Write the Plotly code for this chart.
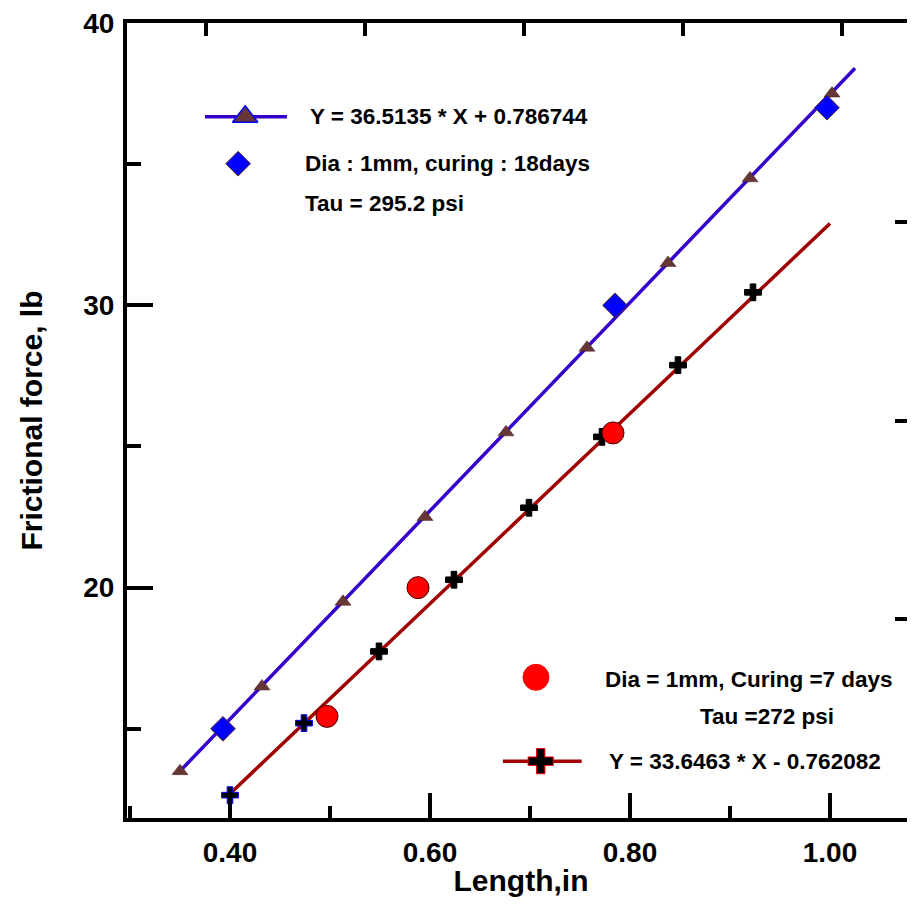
import plotly.graph_objects as go

# fit line 1 (18 days) - markers drawn along the fitted line
fit1_x = [0.350, 0.432, 0.513, 0.595, 0.676, 0.757, 0.838, 0.920, 1.002]
fit1_y = [13.5, 16.5, 19.5, 22.5, 25.5, 28.5, 31.5, 34.5, 37.5]
line1_x = [0.350, 1.025]
line1_y = [13.5, 38.4]

# measured points, 18 days curing
days18_x = [0.393, 0.785, 0.997]
days18_y = [15.0, 30.0, 37.0]

# fit line 2 (7 days)
fit2_x = [0.400, 0.474, 0.549, 0.624, 0.699, 0.772, 0.848, 0.923]
fit2_y = [12.65, 15.2, 17.74, 20.28, 22.83, 25.34, 27.88, 30.46]
line2_x = [0.400, 1.000]
line2_y = [12.7, 32.9]

# measured points, 7 days curing
days7_x = [0.497, 0.588, 0.783]
days7_y = [15.44, 20.0, 25.48]

xticks = [0.40, 0.60, 0.80, 1.00]
yticks = [20, 30, 40]

FONT = "Liberation Sans, Arial, sans-serif"
BLUE_LINE = "#3300CC"
RED_LINE = "#A00000"
BROWN = "#673636"

fig = go.Figure()

# lines
fig.add_trace(go.Scatter(x=line1_x, y=line1_y, mode="lines",
                         line=dict(color=BLUE_LINE, width=3.5), showlegend=False))
fig.add_trace(go.Scatter(x=line2_x, y=line2_y, mode="lines",
                         line=dict(color=RED_LINE, width=3.5), showlegend=False))

# markers on the fit lines
fig.add_trace(go.Scatter(x=fit1_x, y=fit1_y, mode="markers",
                         marker=dict(symbol="triangle-up", size=14, color=BROWN,
                                     line=dict(color="#4a2020", width=0.5)),
                         showlegend=False))
cross_edges = ["#0000FF", "#0000FF"] + ["#000000"] * (len(fit2_x) - 2)
fig.add_trace(go.Scatter(x=fit2_x, y=fit2_y, mode="markers",
                         marker=dict(symbol="cross", size=14, color="#000000",
                                     line=dict(color=cross_edges, width=1)),
                         showlegend=False))

# measured data
fig.add_trace(go.Scatter(x=days18_x, y=days18_y, mode="markers",
                         marker=dict(symbol="diamond", size=19, color="#0000FF",
                                     line=dict(color="#5a2a2a", width=1)),
                         showlegend=False))
fig.add_trace(go.Scatter(x=days7_x, y=days7_y, mode="markers",
                         marker=dict(symbol="circle", size=22, color="#FF0000",
                                     line=dict(color="#400000", width=1)),
                         showlegend=False))

# hand-made legend keys on a hidden 0..1 axis pair
def key(xs, ys, mode, marker=None, line=None):
    fig.add_trace(go.Scatter(x=xs, y=ys, mode=mode, marker=marker, line=line,
                             xaxis="x3", yaxis="y3", showlegend=False,
                             hoverinfo="skip"))

key([0.099, 0.203], [0.882, 0.882], "lines", line=dict(color=BLUE_LINE, width=3.5))
key([0.150], [0.882], "markers",
    marker=dict(symbol="triangle-up", size=22, color=BROWN, line=dict(color="#0000FF", width=1.5)))
key([0.141], [0.823], "markers",
    marker=dict(symbol="diamond", size=19, color="#0000FF", line=dict(color="#5a2a2a", width=1)))
key([0.519], [0.177], "markers",
    marker=dict(symbol="circle", size=26, color="#FF0000", line=dict(color="#FF0000", width=1)))
key([0.477, 0.577], [0.0715, 0.0715], "lines", line=dict(color=RED_LINE, width=3.5))
key([0.525], [0.0715], "markers",
    marker=dict(symbol="cross", size=21, color="#000000", line=dict(color="#FF0000", width=1)))

# axis used only to draw the ticks of the top frame line / right frame
fig.add_trace(go.Scatter(x=[None], y=[None], xaxis="x2", yaxis="y2", showlegend=False))

legend_text = [
    ("Y = 36.5135 * X + 0.786744", 0.2297, 0.882),
    ("Dia : 1mm, curing : 18days", 0.223, 0.823),
    ("Tau = 295.2 psi", 0.223, 0.773),
    ("Dia = 1mm, Curing =7 days", 0.604, 0.174),
    ("Tau =272 psi", 0.7246, 0.128),
    ("Y = 33.6463 * X - 0.762082", 0.609, 0.0715),
]
for txt, ax, ay in legend_text:
    fig.add_annotation(text=txt, x=ax, y=ay, xref="paper", yref="paper",
                       xanchor="left", yanchor="middle", showarrow=False,
                       font=dict(family=FONT, size=22.5, color="black", weight="bold"))

tick_font = dict(family=FONT, size=28, color="black", weight="bold")
title_font = dict(family=FONT, size=30, color="black", weight="bold")

# the page body adds an 8px margin; keep the page free of scrollbars
fig.update_layout(
    width=907, height=889,
    margin=dict(l=119, r=0, t=14, b=78),
    paper_bgcolor="white", plot_bgcolor="white",
    showlegend=False,
    xaxis=dict(range=[0.297, 1.085], tickvals=xticks, tickformat=".2f",
               ticks="inside", ticklen=25, tickwidth=4, tickcolor="black",
               minor=dict(tickvals=[0.3, 0.5, 0.7, 0.9], ticks="inside",
                          ticklen=12, tickwidth=4, tickcolor="black"),
               showline=True, linewidth=4, linecolor="black",
               showgrid=False, zeroline=False, tickfont=tick_font,
               ticklabelstandoff=6, ticklabeloverflow="allow",
               title=dict(text="Length,in", font=title_font, standoff=8)),
    yaxis=dict(range=[11.84, 40], tickvals=yticks,
               ticks="inside", ticklen=26, tickwidth=4, tickcolor="black",
               minor=dict(tickvals=[15, 25, 35], ticks="inside",
                          ticklen=14, tickwidth=4, tickcolor="black"),
               showline=True, linewidth=4, linecolor="black",
               showgrid=False, zeroline=False, tickfont=tick_font,
               ticklabelstandoff=3, ticklabeloverflow="allow",
               title=dict(text="Frictional force, lb", font=title_font, standoff=33)),
    xaxis2=dict(overlaying="x", side="top", range=[0, 4.96],
                tickvals=[0.5, 1.5, 2.5, 3.5, 4.5], ticks="inside",
                ticklen=13, tickwidth=4, tickcolor="black", showticklabels=False,
                showline=True, linewidth=4, linecolor="black",
                showgrid=False, zeroline=False),
    yaxis2=dict(overlaying="y", side="right", range=[0, 4],
                tickvals=[0, 1, 2, 3, 4], ticks="inside", ticklen=20,
                tickwidth=4, tickcolor="black", showticklabels=False,
                minor=dict(tickvals=[0.5, 1.5, 2.5, 3.5], ticks="inside",
                           ticklen=7, tickwidth=4, tickcolor="black"),
                showline=False, showgrid=False, zeroline=False),
    xaxis3=dict(overlaying="x", range=[0, 1], visible=False),
    yaxis3=dict(overlaying="y", range=[0, 1], visible=False),
)

fig.write_html("out.html")
